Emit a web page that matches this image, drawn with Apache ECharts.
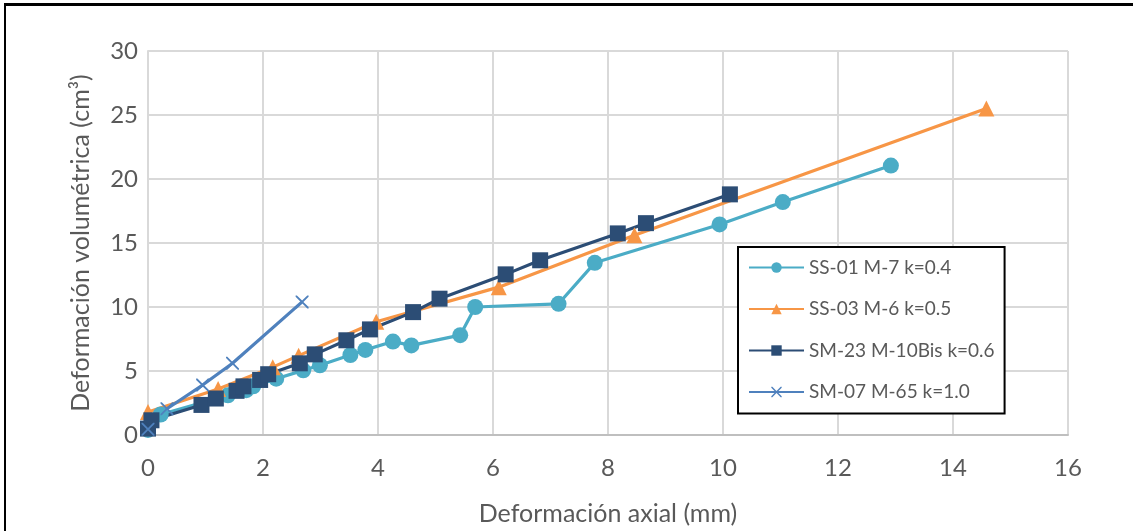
<!DOCTYPE html>
<html>
<head>
<meta charset="utf-8">
<script src="https://cdn.jsdelivr.net/npm/echarts@6/dist/echarts.min.js"></script>
<style>
html,body{margin:0;padding:0;background:#fff;overflow:hidden;}
#frame{position:absolute;left:4px;top:3px;width:1140px;height:540px;border-left:2px solid #000;border-top:3px solid #000;}
#chart{position:absolute;left:0;top:0;width:1133px;height:531px;}
</style>
</head>
<body>
<div id="frame"></div>
<div id="chart"></div>
<script>
const xTicks = [0,2,4,6,8,10,12,14,16];
const yTicks = [0,5,10,15,20,25,30];
const seriesNames = ["SS-01 M-7 k=0.4","SS-03 M-6 k=0.5","SM-23 M-10Bis k=0.6","SM-07 M-65 k=1.0"];

const ss01 = [[0.0,0.4],[0.22,1.6],[1.39,3.1],[1.71,3.5],[1.83,3.8],[2.23,4.4],[2.70,5.05],[2.99,5.45],[3.52,6.25],[3.78,6.65],[4.26,7.3],[4.58,7.0],[5.43,7.8],[5.69,10.0],[7.14,10.25],[7.77,13.45],[9.94,16.45],[11.04,18.2],[12.92,21.05]];
const ss03 = [[0.0,1.8],[1.22,3.6],[2.17,5.3],[2.62,6.2],[3.97,8.85],[6.1,11.55],[8.46,15.6],[14.58,25.5]];
const sm23 = [[0.0,0.5],[0.06,1.15],[0.93,2.35],[1.18,2.85],[1.54,3.45],[1.66,3.8],[1.95,4.3],[2.09,4.75],[2.64,5.6],[2.9,6.3],[3.45,7.4],[3.86,8.25],[4.61,9.6],[5.07,10.65],[6.22,12.55],[6.82,13.65],[8.17,15.75],[8.66,16.55],[10.12,18.8]];
const sm07 = [[0.0,0.45],[0.33,2.05],[0.95,3.9],[1.47,5.6],[2.68,10.4]];

const colors = ["#4BACC6","#F79646","#2C4D75","#4F81BD"];
const font = "Lato, 'Open Sans', sans-serif";

const chart = echarts.init(document.getElementById('chart'), null, {renderer:'canvas'});
const xSym = 'path://M0,0L1,0L5,4L9,0L10,0L10,1L6,5L10,9L10,10L9,10L5,6L1,10L0,10L0,9L4,5L0,1Z';
function mk(name, data, symbol, size, color){
  return {
    name, type:'line', data, symbol, symbolSize:size, showSymbol:true,
    lineStyle:{color, width:3.2}, itemStyle:{color, borderWidth:0},
    emphasis:{disabled:true}, animation:false
  };
}
chart.setOption({
  backgroundColor:'transparent',
  animation:false,
  color: colors,
  grid:{left:148, right:65, top:51, bottom:94.5, containLabel:false},
  legend:{
    orient:'vertical', left:738, top:247, itemWidth:55, itemHeight:13, itemGap:22.5,
    backgroundColor:'#fff', borderColor:'#000', borderWidth:2, padding:[11,10,12,10],
    textStyle:{fontFamily:font, fontSize:19, color:'#595959'},
    data: seriesNames.map(n=>({name:n}))
  },
  xAxis:{
    type:'value', min:0, max:16, interval:2,
    name:'Deformación axial (mm)', nameLocation:'middle', nameGap:66,
    nameTextStyle:{fontFamily:font, fontSize:25, color:'#595959'},
    axisLine:{show:true, lineStyle:{color:'#BFBFBF', width:2}},
    axisTick:{show:false},
    axisLabel:{fontFamily:font, fontSize:24, color:'#595959', margin:21, formatter:(v)=>xTicks.includes(v)?String(v):''},
    splitLine:{show:true, lineStyle:{color:'#D9D9D9', width:2}}
  },
  yAxis:{
    type:'value', min:0, max:30, interval:5,
    name:'Deformación volumétrica (cm³)', nameLocation:'middle', nameGap:55,
    nameTextStyle:{fontFamily:font, fontSize:25, color:'#595959'},
    axisLine:{show:true, lineStyle:{color:'#D9D9D9', width:2}},
    axisTick:{show:false},
    axisLabel:{fontFamily:font, fontSize:24, color:'#595959', margin:10, formatter:(v)=>yTicks.includes(v)?String(v):''},
    splitLine:{show:true, lineStyle:{color:'#D9D9D9', width:2}}
  },
  series:[
    mk(seriesNames[0], ss01, 'circle', 16, colors[0]),
    mk(seriesNames[1], ss03, 'triangle', 16, colors[1]),
    mk(seriesNames[2], sm23, 'rect', 16, colors[2]),
    mk(seriesNames[3], sm07, xSym, 13, colors[3])
  ]
});
</script>
</body>
</html>
